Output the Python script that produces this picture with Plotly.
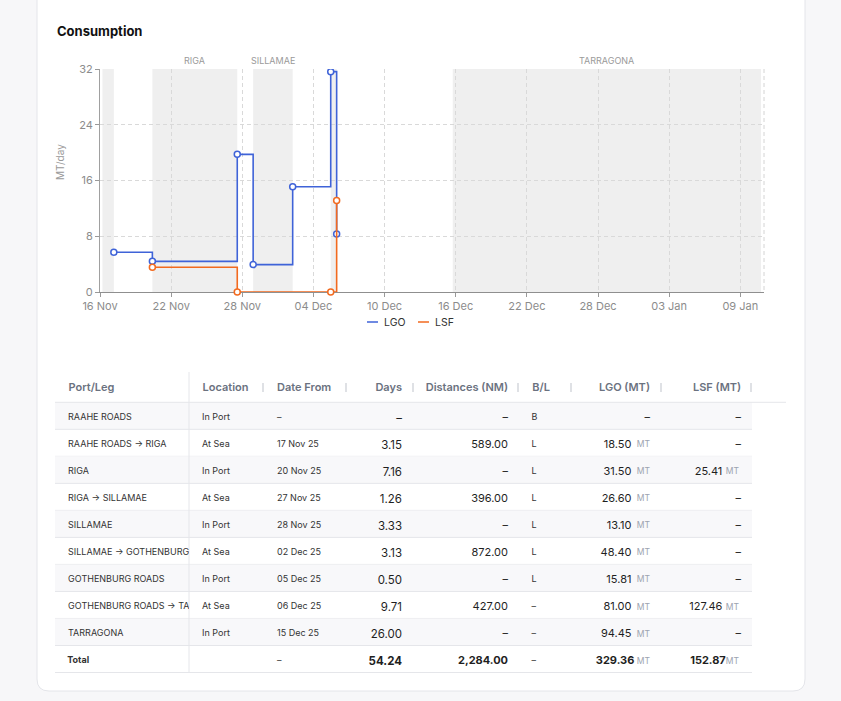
import plotly.graph_objects as go
import pandas as pd

W, H = 841, 701


def px(x):
    return x / W


def py(y):
    return 1 - y / H


FONT = "Inter"
LGO_C = "#3f63d8"
LSF_C = "#f26a1f"

# ---------------- chart data ----------------
series_names = ["LGO", "LSF"]
lgo_dates = ["2025-11-17 04:00", "2025-11-20 10:00", "2025-11-27 13:50",
             "2025-11-28 22:00", "2025-12-02 06:00", "2025-12-05 11:00",
             "2025-12-05 23:00"]
lgo_vals = [5.7, 4.40, 19.75, 3.93, 15.1, 31.62, 8.34]
lsf_dates = ["2025-11-20 10:00", "2025-11-27 13:50", "2025-12-05 11:00",
             "2025-12-05 23:00"]
lsf_vals = [3.55, 0, 0, 13.13]

port_names = ["RAAHE ROADS", "RIGA", "SILLAMAE", "GOTHENBURG ROADS", "TARRAGONA"]
port_start = ["2025-11-16 05:00", "2025-11-20 10:00", "2025-11-28 22:00",
              "2025-12-05 11:00", "2025-12-15 18:00"]
port_end = ["2025-11-17 04:00", "2025-11-27 13:50", "2025-12-02 06:00",
            "2025-12-05 23:00", "2026-01-10 18:00"]
port_label_show = [False, True, True, False, True]

x_range = ["2025-11-16 00:00", "2026-01-11 00:00"]

# ---------------- table data ----------------
col_headers = ["Port/Leg", "Location", "Date From", "Days", "Distances (NM)",
               "B/L", "LGO (MT)", "LSF (MT)"]
unit = "MT"
port_leg = ["RAAHE ROADS", "RAAHE ROADS → RIGA", "RIGA", "RIGA → SILLAMAE",
            "SILLAMAE", "SILLAMAE → GOTHENBURG ROADS", "GOTHENBURG ROADS",
            "GOTHENBURG ROADS → TARRAGONA", "TARRAGONA"]
location = ["In Port", "At Sea", "In Port", "At Sea", "In Port", "At Sea",
            "In Port", "At Sea", "In Port"]
date_from = ["–", "17 Nov 25", "20 Nov 25", "27 Nov 25", "28 Nov 25",
             "02 Dec 25", "05 Dec 25", "06 Dec 25", "15 Dec 25"]
days = [None, 3.15, 7.16, 1.26, 3.33, 3.13, 0.50, 9.71, 26.00]
distances = [None, 589.00, None, 396.00, None, 872.00, None, 427.00, None]
bl = ["B", "L", "L", "L", "L", "L", "L", "–", "–"]
lgo_mt = [None, 18.50, 31.50, 26.60, 13.10, 48.40, 15.81, 81.00, 94.45]
lsf_mt = [None, None, 25.41, None, None, None, None, 127.46, None]

NB = "\u00a0"
UNIT_GAP = NB * 6   # room kept for the small unit label


def num(v):
    return "–" if v is None else f"{v:,.2f}"


def qty(v):
    return "–" if v is None else f"{v:,.2f}" + UNIT_GAP


def nb(s):
    return s.replace(" ", NB)


tot_days = sum(v for v in days if v is not None)
tot_dist = sum(v for v in distances if v is not None)
tot_lgo = sum(v for v in lgo_mt if v is not None)
tot_lsf = sum(v for v in lsf_mt if v is not None)

# body rows (last row left blank; the bold totals are laid over it)
c_port = [NB * 2 + nb(p) for p in port_leg] + [""]
c_loc = [NB * 2 + nb(l) for l in location] + [""]
c_date = [nb(d) for d in date_from] + [""]
c_days = [num(v) for v in days] + [""]
c_dist = [num(v) for v in distances] + [""]
c_bl = [NB * 3 + b for b in bl] + [""]
c_lgo = [qty(v) for v in lgo_mt] + [""]
c_lsf = [qty(v) + NB for v in lsf_mt] + [""]

blank = [""] * len(port_leg)
t_vals = [blank + [NB * 2 + "Total"], blank + [""], blank + ["–"],
          blank + [num(tot_days)], blank + [num(tot_dist)], blank + [NB * 3 + "–"],
          blank + [qty(tot_lgo)], blank + [qty(tot_lsf) + NB]]

u_lgo = ["" if v is None else unit for v in lgo_mt] + [unit]
u_lsf = ["" if v is None else unit for v in lsf_mt] + [unit]

h_vals = [NB * 2 + nb(col_headers[0]), NB * 2 + nb(col_headers[1]), nb(col_headers[2]),
          nb(col_headers[3]), nb(col_headers[4]), NB * 3 + nb(col_headers[5]),
          nb(col_headers[6]), nb(col_headers[7]) + NB]

n_rows = len(port_leg) + 1

fig = go.Figure()

# ---------------- shapes: card ----------------
shapes = []
L, R, T, B, r = 37, 805, -20, 691, 12
path = (f"M{px(L)},{py(T)} L{px(L)},{py(B - r)} Q{px(L)},{py(B)} {px(L + r)},{py(B)} "
        f"L{px(R - r)},{py(B)} Q{px(R)},{py(B)} {px(R)},{py(B - r)} L{px(R)},{py(T)} Z")
shapes.append(dict(type="path", path=path, xref="paper", yref="paper",
                   fillcolor="white", line=dict(color="#e4e5ea", width=1),
                   layer="below"))

# port shading
for s, e in zip(port_start, port_end):
    shapes.append(dict(type="rect", xref="x", yref="y", x0=s, x1=e, y0=0, y1=32,
                       fillcolor="#efefef", line=dict(width=0), layer="below"))

# right frame dashed line
shapes.append(dict(type="line", xref="paper", yref="paper", x0=px(764), x1=px(764),
                   y0=py(69), y1=py(292), line=dict(color="#d4d4d4", width=1, dash="4px,3px"),
                   layer="below"))

# table row backgrounds and lines
tab_left, tab_right = 55, 752
head_top, head_bot = 372, 402.3
row_h = 27.02
for i in range(n_rows):
    y0 = head_bot + row_h * i
    y1 = y0 + row_h
    if i % 2 == 0 and i < n_rows - 1:
        shapes.append(dict(type="rect", xref="paper", yref="paper", x0=px(tab_left),
                           x1=px(tab_right), y0=py(y0), y1=py(y1),
                           fillcolor="#f8f8fa", line=dict(width=0), layer="below"))
    shapes.append(dict(type="line", xref="paper", yref="paper", x0=px(tab_left),
                       x1=px(tab_right), y0=py(y1), y1=py(y1),
                       line=dict(color="#e5e6ea", width=1), layer="below"))
shapes.append(dict(type="line", xref="paper", yref="paper", x0=px(tab_left), x1=px(786),
                   y0=py(head_bot), y1=py(head_bot), line=dict(color="#e5e6ea", width=1),
                   layer="below"))
shapes.append(dict(type="line", xref="paper", yref="paper", x0=px(189), x1=px(189),
                   y0=py(head_top), y1=py(head_bot + row_h * n_rows),
                   line=dict(color="#e5e6ea", width=1), layer="below"))
for bx in [263, 346, 413, 518, 571, 661, 751]:
    shapes.append(dict(type="line", xref="paper", yref="paper", x0=px(bx), x1=px(bx),
                       y0=py(383), y1=py(392), line=dict(color="#d5d7dc", width=1.5),
                       layer="below"))

# custom legend
leg_items = [(series_names[0], LGO_C, 367), (series_names[1], LSF_C, 418)]
annotations = []
for name, col, lx in leg_items:
    shapes.append(dict(type="line", xref="paper", yref="paper", x0=px(lx), x1=px(lx + 11),
                       y0=py(322), y1=py(322), line=dict(color=col, width=1.5)))
    annotations.append(dict(text=name, xref="paper", yref="paper", x=px(lx + 15), y=py(322),
                            xanchor="left", yanchor="middle", showarrow=False,
                            font=dict(family=FONT, size=10.5, color="#333")))

# title
annotations.append(dict(text="<b>Consumption</b>", xref="paper", yref="paper", x=px(55),
                        y=py(31), xanchor="left", yanchor="middle", showarrow=False,
                        font=dict(family=FONT, size=13, color="#111")))
# y axis title
annotations.append(dict(text="MT/day", xref="paper", yref="paper", x=px(60), y=py(162),
                        textangle=-90, showarrow=False, xanchor="center", yanchor="middle",
                        font=dict(family=FONT, size=10, color="#999")))
# port labels at the middle of each stay
for name, s, e, show in zip(port_names, port_start, port_end, port_label_show):
    if show:
        mid = pd.Timestamp(s) + (pd.Timestamp(e) - pd.Timestamp(s)) / 2
        annotations.append(dict(text=name, xref="x", yref="paper",
                                x=mid.strftime("%Y-%m-%d %H:%M"), y=py(61),
                                showarrow=False, xanchor="center", yanchor="middle",
                                font=dict(family=FONT, size=9, color="#9a9a9a")))

# ---------------- traces ----------------
fig.add_trace(go.Scatter(x=lgo_dates, y=lgo_vals, name=series_names[0],
                         mode="lines+markers", line=dict(shape="hv", color=LGO_C, width=1.6),
                         marker=dict(size=6, color="white", line=dict(color=LGO_C, width=1.5)),
                         showlegend=False))
fig.add_trace(go.Scatter(x=lsf_dates, y=lsf_vals, name=series_names[1],
                         mode="lines+markers", line=dict(shape="hv", color=LSF_C, width=1.6),
                         marker=dict(size=6, color="white", line=dict(color=LSF_C, width=1.5)),
                         showlegend=False, cliponaxis=False))

CLEAR = "rgba(0,0,0,0)"
tshift = 3
col_w = [134, 80, 77, 64, 106, 55, 87, 94]
aligns = ["left", "left", "left", "right", "right", "left", "right", "right"]
sizes = [9, 9, 9, 11.5, 11, 9, 11, 11]
colors = ["#333", "#333", "#333", "#1f1f1f", "#1f1f1f", "#333", "#1f1f1f", "#1f1f1f"]
dom_main = dict(x=[px(tab_left), px(tab_right)],
                y=[py(head_bot + row_h * n_rows + 12), py(head_top + tshift)])

fig.add_trace(go.Table(
    domain=dom_main, columnwidth=col_w,
    header=dict(values=h_vals, height=30, align=aligns,
                fill=dict(color=CLEAR), line=dict(width=0, color=CLEAR),
                font=dict(family=FONT, size=11, color="#6b7280", weight=600)),
    cells=dict(values=[c_port, c_loc, c_date, c_days, c_dist, c_bl, c_lgo, c_lsf],
               height=row_h, align=aligns,
               fill=dict(color=CLEAR), line=dict(width=0, color=CLEAR),
               font=dict(family=FONT, size=sizes, color=colors)),
))

# totals row (bold where the reference is bold)
fig.add_trace(go.Table(
    domain=dom_main, columnwidth=col_w,
    header=dict(values=[""] * 8, height=30, fill=dict(color=CLEAR),
                line=dict(width=0, color=CLEAR)),
    cells=dict(values=t_vals, height=row_h, align=aligns,
               fill=dict(color=CLEAR), line=dict(width=0, color=CLEAR),
               font=dict(family=FONT, size=sizes, color=colors,
                         weight=[700, 400, 400, 700, 700, 400, 700, 700])),
))

# small grey unit labels, laid over the quantity columns
ushift = 1
fig.add_trace(go.Table(
    domain=dict(x=[px(628.7), px(760)],
                y=[py(head_bot + row_h * n_rows + 12 + ushift), py(head_top + tshift + ushift)]),
    columnwidth=[89.3, 42],
    header=dict(values=["", ""], height=30, fill=dict(color=CLEAR),
                line=dict(width=0, color=CLEAR)),
    cells=dict(values=[u_lgo, u_lsf], height=row_h, align="left",
               fill=dict(color=CLEAR), line=dict(width=0, color=CLEAR),
               font=dict(family=FONT, size=8.5, color="#9ca3af")),
))

fig.update_layout(
    width=W, height=H, margin=dict(l=0, r=0, t=0, b=0, pad=0, autoexpand=False),
    autosize=False,
    paper_bgcolor="#f7f7f9", plot_bgcolor="rgba(0,0,0,0)",
    font=dict(family=FONT, color="#888"),
    showlegend=False,
    shapes=shapes, annotations=annotations,
    xaxis=dict(type="date", range=x_range, domain=[px(100), px(764)], automargin=False,
               tick0="2025-11-16", dtick=6 * 86400000, tickformat="%d %b",
               ticks="outside", ticklen=4, tickcolor="#999", showline=True,
               linecolor="#8f8f8f", linewidth=1, showgrid=True, gridcolor="#d9d9d9",
               griddash="4px,3px", zeroline=False, layer="below traces",
               tickfont=dict(family=FONT, size=11, color="#8c8c8c"), anchor="y"),
    yaxis=dict(range=[0, 32], dtick=8, domain=[py(292), py(69)], ticks="outside",
               automargin=False, layer="below traces",
               ticklen=4, tickcolor="#999", showline=True, linecolor="#a0a0a0",
               linewidth=1, showgrid=True, gridcolor="#d9d9d9", griddash="4px,3px",
               zeroline=False, tickfont=dict(family=FONT, size=11, color="#8c8c8c"),
               anchor="x"),
)

fig.write_html("out.html")
